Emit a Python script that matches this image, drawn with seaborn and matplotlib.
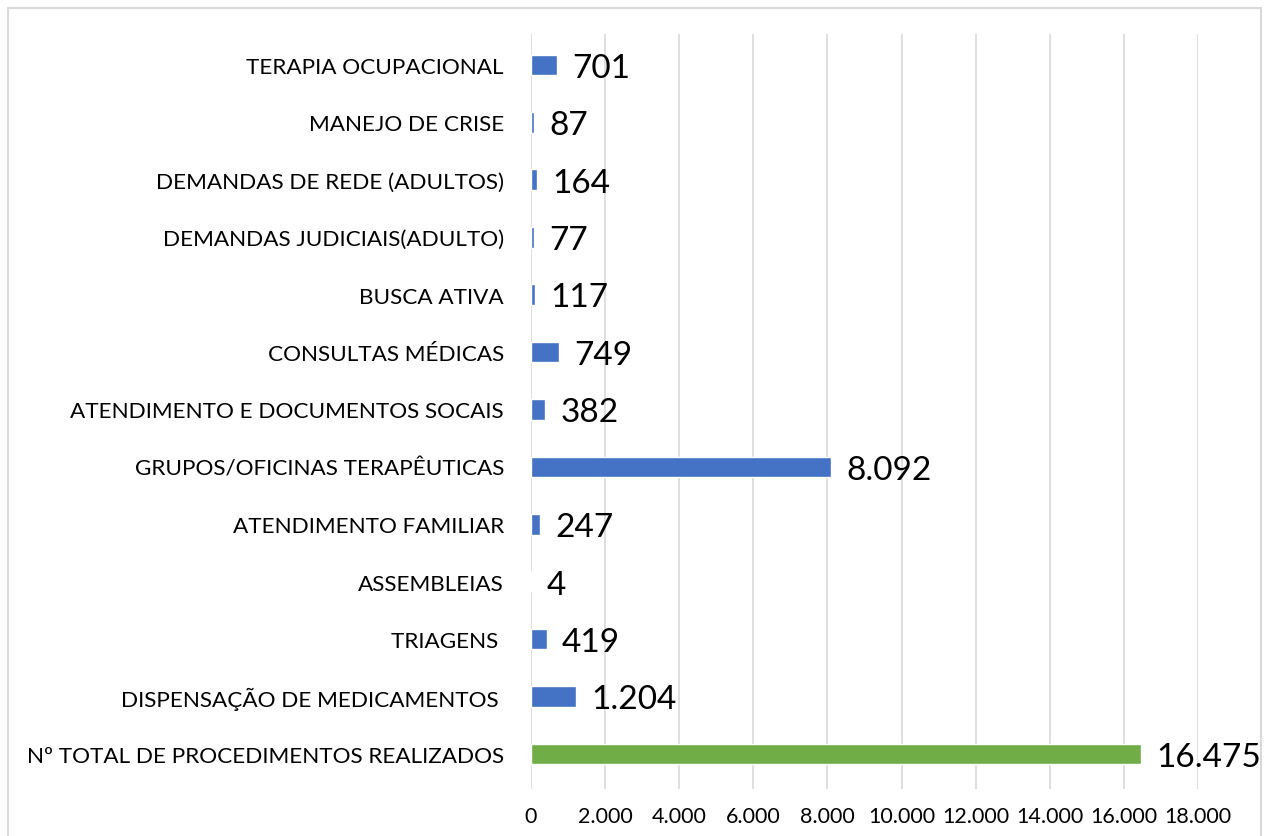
import matplotlib
matplotlib.use("Agg")
import matplotlib.pyplot as plt
import seaborn as sns
import pandas as pd
from matplotlib.patches import Rectangle
from matplotlib.ticker import FuncFormatter

categories = [
    "TERAPIA OCUPACIONAL",
    "MANEJO DE CRISE",
    "DEMANDAS DE REDE (ADULTOS)",
    "DEMANDAS JUDICIAIS(ADULTO)",
    "BUSCA ATIVA",
    "CONSULTAS MÉDICAS",
    "ATENDIMENTO E DOCUMENTOS SOCAIS",
    "GRUPOS/OFICINAS TERAPÊUTICAS",
    "ATENDIMENTO FAMILIAR",
    "ASSEMBLEIAS",
    "TRIAGENS ",
    "DISPENSAÇÃO DE MEDICAMENTOS ",
    "Nº TOTAL DE PROCEDIMENTOS REALIZADOS",
]
values = [701, 87, 164, 77, 117, 749, 382, 8092, 247, 4, 419, 1204, 16475]
x_ticks = [0, 2000, 4000, 6000, 8000, 10000, 12000, 14000, 16000, 18000]

BLUE = "#4472C4"
GREEN = "#70AD47"
colors = {c: (GREEN if c.startswith("Nº") else BLUE) for c in categories}

sns.set_theme(style="white")
plt.rcParams["font.family"] = ["Lato", "DejaVu Sans"]

def br(v):
    return f"{int(v):,}".replace(",", ".")

df = pd.DataFrame({"categoria": categories, "valor": values})

fig = plt.figure(figsize=(12.69, 8.37), dpi=100)
ax = fig.add_axes([531 / 1269, 1 - 790 / 837, (1198 - 531) / 1269, (790 - 35) / 837])

sns.barplot(data=df, x="valor", y="categoria", hue="categoria", palette=colors,
            orient="h", width=0.36, legend=False, ax=ax, saturation=1)

ax.set_xlim(0, 18000)
ax.set_ylim(len(categories) - 1 + 0.61, -0.54)
ax.set_xticks(x_ticks)
ax.xaxis.set_major_formatter(FuncFormatter(lambda v, p: br(v)))
ax.grid(axis="x", color="#d9d9d9", linewidth=1.2)
ax.set_axisbelow(True)
for s in ax.spines.values():
    s.set_visible(False)
ax.set_xlabel("")
ax.set_ylabel("")
ax.tick_params(axis="x", length=0, pad=12, labelsize=15.5, labelcolor="#000000")
ax.tick_params(axis="y", length=0, pad=19.5, labelsize=16.2, labelcolor="#000000")

for i, v in enumerate(values):
    ax.annotate(br(v), xy=(v, i), xytext=(11, -2), textcoords="offset points",
                ha="left", va="center", fontsize=24, color="#000000")

fig.patches.append(Rectangle((8 / 1269, -0.1), (1261 - 8) / 1269, 1.1 - 9 / 837,
                             transform=fig.transFigure, fill=False,
                             edgecolor="#d9d9d9", linewidth=1.5))

fig.savefig("out.png", dpi=100, facecolor="white")
